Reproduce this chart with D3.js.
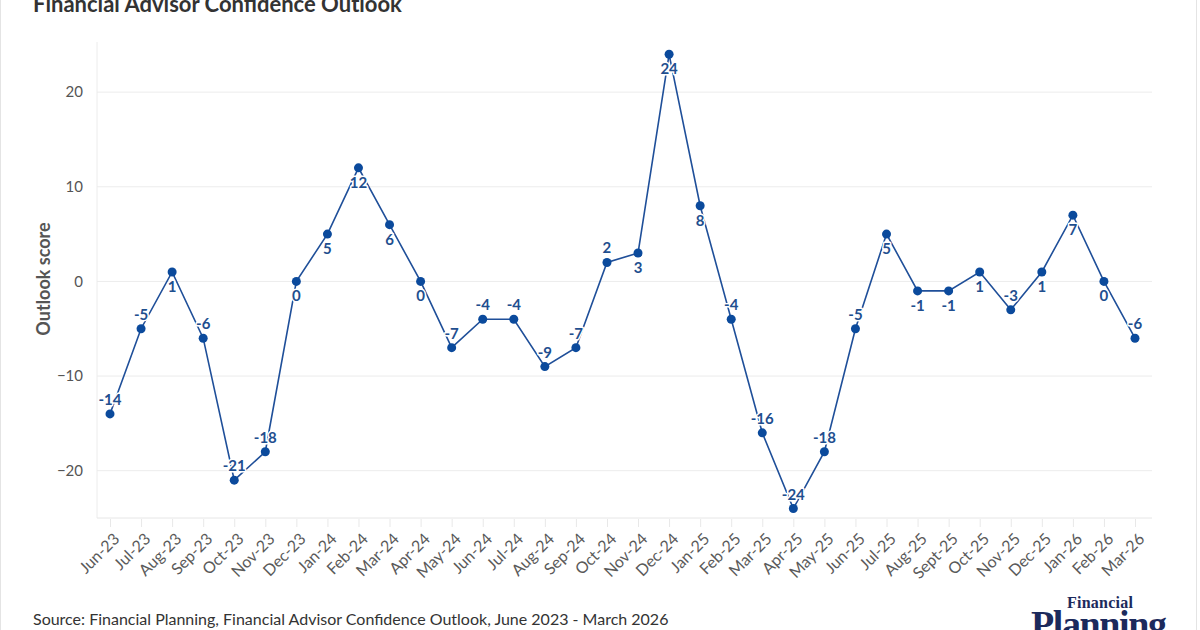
<!DOCTYPE html>
<html><head><meta charset="utf-8">
<script src="https://cdn.jsdelivr.net/npm/d3@7"></script>
<style>
html,body{margin:0;padding:0;background:#fff;}
svg{display:block;font-family:Lato,"Open Sans",sans-serif;}
</style></head>
<body><svg id="c" width="1200" height="630"></svg>
<script>
const categories = ["Jun-23","Jul-23","Aug-23","Sep-23","Oct-23","Nov-23","Dec-23","Jan-24","Feb-24","Mar-24","Apr-24","May-24","Jun-24","Jul-24","Aug-24","Sep-24","Oct-24","Nov-24","Dec-24","Jan-25","Feb-25","Mar-25","Apr-25","May-25","Jun-25","Jul-25","Aug-25","Sept-25","Oct-25","Nov-25","Dec-25","Jan-26","Feb-26","Mar-26"];
const scores = [-14,-5,1,-6,-21,-18,0,5,12,6,0,-7,-4,-4,-9,-7,2,3,24,8,-4,-16,-24,-18,-5,5,-1,-1,1,-3,1,7,0,-6];
const labelSide = ["a","a","b","a","a","a","b","b","b","b","b","a","a","a","a","a","a","b","b","b","a","a","a","a","a","b","b","b","b","a","b","b","b","a"];
const yTicks = [-20,-10,0,10,20];
const title = "Financial Advisor Confidence Outlook";
const yTitle = "Outlook score";
const source = "Source: Financial Planning, Financial Advisor Confidence Outlook, June 2023 - March 2026";

(function(){
const svg = d3.select("#c");
const W = 1200, H = 630;
const pL = 97, pR = 1152, pT = 42, pB = 518;

// frame border
svg.append("rect").attr("x",0.5).attr("y",-2).attr("width",W-4).attr("height",H+4)
  .attr("fill","none").attr("stroke","#e4e4e4");

const x = d3.scalePoint().domain(categories).range([110,1135]);
const y = d3.scaleLinear().domain([-25,25.3]).range([pB, pT]);

// gridlines
svg.append("g").selectAll("line").data(yTicks).join("line")
  .attr("x1",pL).attr("x2",pR).attr("y1",d=>y(d)).attr("y2",d=>y(d))
  .attr("stroke","#ececec").attr("stroke-width",1);
svg.append("line").attr("x1",pL).attr("x2",pL).attr("y1",pT).attr("y2",pB).attr("stroke","#ececec");
svg.append("line").attr("x1",pL).attr("x2",pR).attr("y1",pB).attr("y2",pB).attr("stroke","#e6e6e6");

// y axis
const yAxis = d3.axisLeft(y).tickValues(yTicks).tickSize(0).tickPadding(0);
const gy = svg.append("g").attr("transform",`translate(83,0)`).call(yAxis);
gy.select(".domain").remove();
gy.selectAll("text").attr("font-size",15).attr("fill","#555").attr("font-family","Lato,sans-serif");

// x axis
const xAxis = d3.axisBottom(x).tickSize(8).tickPadding(4);
const gx = svg.append("g").attr("transform",`translate(0,${pB+1})`).call(xAxis);
gx.select(".domain").remove();
gx.selectAll(".tick line").attr("stroke","#e8e8e8");
gx.selectAll("text").attr("font-size",16).attr("fill","#5a5a5a").attr("font-family","Lato,sans-serif")
  .attr("text-anchor","end").attr("dy",0).attr("y",0).attr("dx",0)
  .attr("transform","translate(10,21) rotate(-45)");

// y title
svg.append("text").attr("transform","translate(50,279) rotate(-90)")
  .attr("text-anchor","middle").attr("font-size",18).attr("font-weight",700)
  .attr("fill","#555").text(yTitle);

// line
const line = d3.line().x((d,i)=>x(categories[i])).y(d=>y(d));
svg.append("path").datum(scores).attr("d",line).attr("fill","none")
  .attr("stroke","#1f4f99").attr("stroke-width",1.6);

// points
svg.append("g").selectAll("circle").data(scores).join("circle")
  .attr("cx",(d,i)=>x(categories[i])).attr("cy",d=>y(d)).attr("r",4.5)
  .attr("fill","#0b4a9c");

// labels
svg.append("g").selectAll("text").data(scores).join("text")
  .attr("x",(d,i)=>x(categories[i]))
  .attr("y",(d,i)=>y(d) + (labelSide[i]==="a" ? -9 : 20))
  .attr("text-anchor","middle").attr("font-size",15).attr("font-weight",700)
  .attr("fill","#1f4f8f").attr("stroke","#fff").attr("stroke-width",3)
  .attr("paint-order","stroke").attr("stroke-linejoin","round")
  .text(d=>d);

// title
svg.append("text").attr("x",33).attr("y",12).attr("font-size",22).attr("font-weight",700)
  .attr("fill","#333").text(title);

// source
svg.append("text").attr("x",33).attr("y",625).attr("font-size",16).attr("fill","#333").text(source);

// logo
svg.append("text").attr("x",1100).attr("y",608).attr("text-anchor","middle")
  .attr("font-family","'Liberation Serif','DejaVu Serif',serif").attr("font-weight",700)
  .attr("font-size",16).attr("fill","#1c2a5c").attr("textLength",66).text("Financial");
svg.append("text").attr("x",1099).attr("y",637).attr("text-anchor","middle")
  .attr("font-family","'Liberation Serif','DejaVu Serif',serif").attr("font-weight",700)
  .attr("font-size",38).attr("fill","#1c2a5c").attr("textLength",136).text("Planning");
})();
</script>
</body></html>
